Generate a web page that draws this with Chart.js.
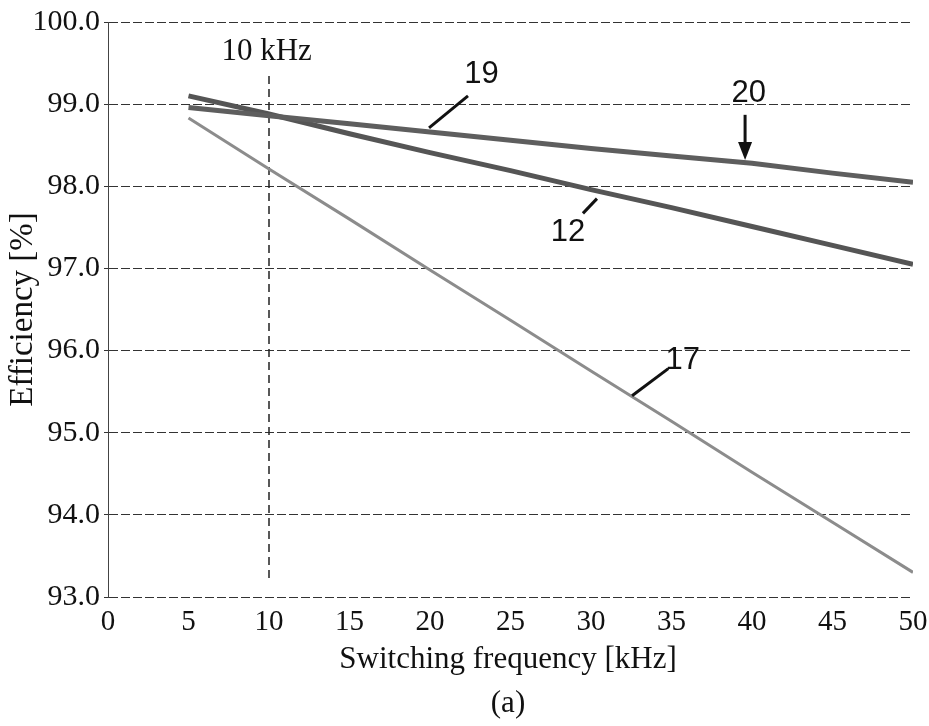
<!DOCTYPE html>
<html>
<head>
<meta charset="utf-8">
<script src="https://cdn.jsdelivr.net/npm/chart.js@4.4.0/dist/chart.umd.min.js"></script>
<style>
  html, body { margin: 0; padding: 0; background: #fff; }
  #wrap { width: 929px; height: 726px; }
</style>
</head>
<body>
<div id="wrap"><canvas id="wykres" width="929" height="726"></canvas></div>
<script>
// dane
const freq = [5, 10, 15, 20, 25, 30, 35, 40, 45, 50]
const eff12 = [99.10, 98.88, 98.64, 98.41, 98.19, 97.96, 97.74, 97.51, 97.28, 97.05]
const eff20 = [98.96, 98.86, 98.76, 98.66, 98.56, 98.46, 98.37, 98.28, 98.16, 98.05]
const eff17 = [98.83, 98.21, 97.60, 96.98, 96.37, 95.75, 95.14, 94.52, 93.91, 93.30]
const yTicks = [93, 94, 95, 96, 97, 98, 99, 100]
const xTicks = [0, 5, 10, 15, 20, 25, 30, 35, 40, 45, 50]
const marker10 = [{x: 10, y: 93.23}, {x: 10, y: 99.39}]

const serif = "'Liberation Serif', 'Times New Roman', serif"
const sans = "'Liberation Sans', Arial, sans-serif"

function pts(ys) {
    return freq.map((f, i) => ({x: f, y: ys[i]}))
}

// podpisy krzywych (w jednostkach danych)
const labels = [
    {text: '19', x: 23.2, y: 99.36, from: [22.36, 99.10], to: [19.94, 98.71]},
    {text: '20', x: 39.8, y: 99.13, arrow: true, from: [39.57, 98.87], to: [39.57, 98.32]},
    {text: '12', x: 28.57, y: 97.44, from: [29.5, 97.67], to: [30.37, 97.85]},
    {text: '17', x: 35.7, y: 95.88, from: [34.8, 95.78], to: [32.55, 95.45]}
]

const annot = {
    id: 'annot',
    afterDatasetsDraw(chart) {
        const ctx = chart.ctx
        const sx = chart.scales.x, sy = chart.scales.y
        ctx.save()
        ctx.fillStyle = '#111'
        ctx.strokeStyle = '#111'
        ctx.textAlign = 'center'
        ctx.textBaseline = 'middle'
        ctx.font = '31px ' + serif
        ctx.fillText('10 kHz', sx.getPixelForValue(9.85), sy.getPixelForValue(99.64))
        labels.forEach(l => {
            ctx.font = '31px ' + sans
            ctx.fillText(l.text, sx.getPixelForValue(l.x), sy.getPixelForValue(l.y))
            const x1 = sx.getPixelForValue(l.from[0]), y1 = sy.getPixelForValue(l.from[1])
            const x2 = sx.getPixelForValue(l.to[0]), y2 = sy.getPixelForValue(l.to[1])
            ctx.lineWidth = 3
            ctx.beginPath()
            ctx.moveTo(x1, y1)
            ctx.lineTo(x2, l.arrow ? y2 - 12 : y2)
            ctx.stroke()
            if (l.arrow) {
                ctx.beginPath()
                ctx.moveTo(x2, y2)
                ctx.lineTo(x2 - 7, y2 - 18)
                ctx.lineTo(x2 + 7, y2 - 18)
                ctx.closePath()
                ctx.fill()
            }
        })
        // opis osi X i (a)
        ctx.font = '31px ' + serif
        ctx.fillText('Switching frequency [kHz]', 508, 660)
        ctx.fillText('(a)', 508, 704)
        ctx.restore()
    }
}

const data = {
    datasets: [
        {data: pts(eff17), borderColor: '#8c8c8c', borderWidth: 3},
        {data: pts(eff20), borderColor: '#5e5e5e', borderWidth: 5},
        {data: pts(eff12), borderColor: '#555555', borderWidth: 5},
        {data: marker10, borderColor: '#222', borderWidth: 1.5, borderDash: [8, 5]}
    ]
}

const chart = new Chart(document.getElementById('wykres'), {
    type: 'line',
    data: data,
    options: {
        responsive: false,
        animation: false,
        devicePixelRatio: 1,
        layout: {padding: {left: 0, right: 16, top: 22, bottom: 0}},
        elements: {point: {radius: 0}, line: {tension: 0}},
        plugins: {legend: {display: false}, tooltip: {enabled: false}},
        scales: {
            x: {
                type: 'linear',
                min: 0, max: 50,
                afterBuildTicks: s => { s.ticks = xTicks.map(v => ({value: v})) },
                afterFit: s => { s.height = 129 },
                grid: {display: false},
                border: {display: false},
                ticks: {color: '#111', font: {family: serif, size: 29}, padding: 0}
            },
            y: {
                min: 93, max: 100,
                afterBuildTicks: s => { s.ticks = yTicks.map(v => ({value: v})) },
                afterFit: s => { s.width = 108 },
                grid: {color: '#333', lineWidth: 1, tickLength: 4},
                border: {display: true, color: '#444'},
                ticks: {
                    color: '#111', font: {family: serif, size: 30}, padding: 4,
                    callback: v => v.toFixed(1)
                },
                title: {
                    display: true, text: 'Efficiency [%]', color: '#111',
                    font: {family: serif, size: 33}, padding: {top: 4, bottom: 0}
                }
            }
        }
    },
    plugins: [annot]
})
// linie siatki przerywane
chart.options.scales.y.grid.borderDash = [9, 3]
chart.options.scales.y.border.dash = [9, 3]
chart.update()
</script>
</body>
</html>
